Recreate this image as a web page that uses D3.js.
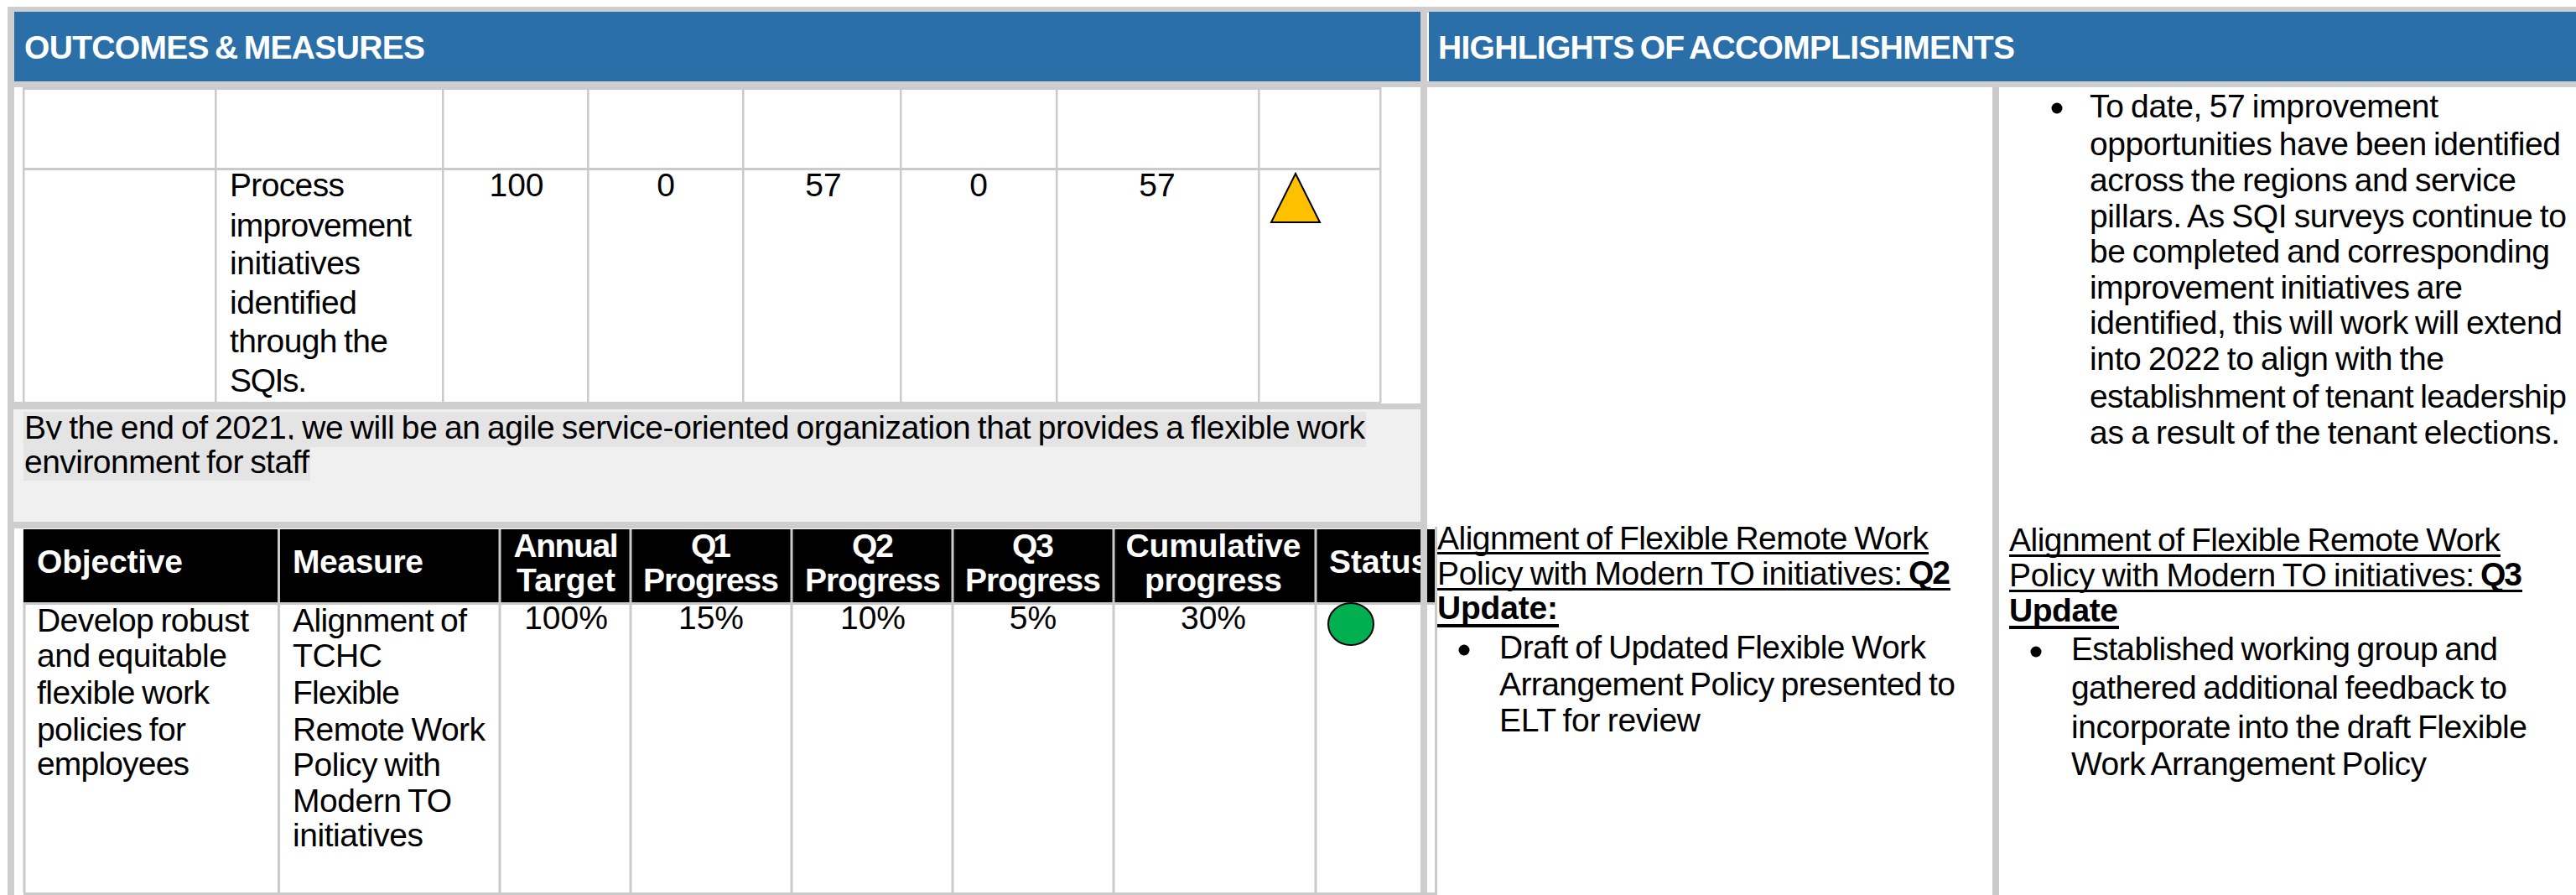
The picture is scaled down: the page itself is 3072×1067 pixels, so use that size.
<!DOCTYPE html>
<html>
<head>
<meta charset="utf-8">
<title>Outcomes and measures</title>
<script src="https://cdn.jsdelivr.net/npm/d3@7"></script>
<style>
  html, body { margin: 0; background: #fff; }
  svg { display: block; font-family: "Liberation Sans", Arial, sans-serif; }
</style>
</head>
<body>
<svg id="canvas" width="3072" height="1067"></svg>
<script>
// values
const sectionTitles = ["OUTCOMES & MEASURES", "HIGHLIGHTS OF ACCOMPLISHMENTS"]

const sqiMeasure = ["Process", "improvement", "initiatives", "identified", "through the", "SQIs."]
const sqiColumns = ["annual", "q1", "q2", "q3", "cumulative"]
const sqiValues = [100, 0, 57, 0, 57]

const outcomeLines = [
  "By the end of 2021, we will be an agile service-oriented organization that provides a flexible work",
  "environment for staff"
]

const flexColumns = ["annual", "q1", "q2", "q3", "cumulative"]
const flexHeaders = [["Annual", "Target"], ["Q1", "Progress"], ["Q2", "Progress"], ["Q3", "Progress"], ["Cumulative", "progress"]]
const flexValues = [100, 15, 10, 5, 30]
const flexObjective = ["Develop robust", "and equitable", "flexible work", "policies for", "employees"]
const flexMeasure = ["Alignment of", "TCHC", "Flexible", "Remote Work", "Policy with", "Modern TO", "initiatives"]

const sqiNote = [
  "To date, 57 improvement", "opportunities have been identified", "across the regions and service",
  "pillars. As SQI surveys continue to", "be completed and corresponding", "improvement initiatives are",
  "identified, this will work will extend", "into 2022 to align with the",
  "establishment of tenant leadership", "as a result of the tenant elections."
]
const updateHeading = ["Alignment of Flexible Remote Work", "Policy with Modern TO initiatives: "]
const q2Update = ["Draft of Updated Flexible Work", "Arrangement Policy presented to", "ELT for review"]
const q3Update = ["Established working group and", "gathered additional feedback to", "incorporate into the draft Flexible", "Work Arrangement Policy"]

// layout
const BLUE = "#2b6fa9", BAND = "#cfcdcd", LINE = "#cacaca", SHADE = "#f0f0f0", HILITE = "#e4e4e4"
const FONT = 39, HEAD = 39

const svg = d3.select("#canvas")

const sqiX = d3.scaleOrdinal().domain(sqiColumns).range([616, 794, 982, 1167, 1380])
const flexX = d3.scaleOrdinal().domain(flexColumns).range([675, 848, 1041, 1232, 1447])

const rect = (x, y, w, h, fill) => svg.append("rect").attr("x", x).attr("y", y).attr("width", w).attr("height", h).attr("fill", fill)

// width is the measured ink width in the reference, so line ends land in the same place
const label = (str, x, y, o = {}) => {
  const t = (o.parent || svg).append("text")
    .attr("x", x).attr("y", o.bold ? y : y + 1)
    .attr("font-size", o.size || FONT)
    .attr("font-weight", o.bold ? "bold" : "normal")
    .attr("fill", o.fill || "#000")
    .attr("text-anchor", o.anchor || "start")
    .style("white-space", "pre")
    .style("word-spacing", o.gap || "-2px")
    .text(str)
  if (o.width) t.attr("textLength", o.width).attr("lengthAdjust", "spacing")
  return t
}

const block = (lines, x, ys, ends) => lines.forEach((d, i) => label(d, x, ys[i], { width: ends ? ends[i] - x : null }))

// section header bands and frame
rect(9, 8, 3063, 99, BAND)
rect(17, 14, 1677, 83, BLUE)
rect(1702, 15, 2, 82, "#fff")
rect(1704, 14, 1368, 83, BLUE)
label(sectionTitles[0], 29, 70, { bold: true, fill: "#fff", size: 39, width: 478, gap: "-3px" })
label(sectionTitles[1], 1715, 70, { bold: true, fill: "#fff", size: 39, width: 688, gap: "-3px" })

rect(9, 107, 8, 960, BAND)
rect(1694, 107, 8, 960, BAND)
rect(17, 104, 1677, 3, "#fff")
rect(1702, 104, 1370, 3, "#fff")
rect(1694, 97, 8, 10, BAND)
rect(9, 97, 8, 10, BAND)

// upper table
const sqiEdges = [28, 257, 528, 701, 886, 1074, 1260, 1501, 1646]
rect(27, 104, 1620, 3, LINE)
rect(27, 200, 1620, 3, LINE)
sqiEdges.forEach(x => rect(x - 1, 104, 2.5, 376, LINE))
block(sqiMeasure, 274, [233, 281, 326, 373, 419, 466], [411, 491, 430, 426, 463, 366])
sqiValues.forEach((d, i) => label(d, sqiX(sqiColumns[i]), 233, { anchor: "middle" }))

const triangle = d3.line()
svg.append("path")
  .attr("d", triangle([[1545, 207], [1574, 265], [1516, 265]]) + "Z")
  .attr("fill", "#ffc000").attr("stroke", "#000").attr("stroke-width", 2)

// shaded outcome statement
rect(9, 479, 1638, 9, BAND)
rect(9, 481, 1693, 7, BAND)
rect(16, 488, 1678, 134, SHADE)
rect(28, 491, 1601, 42, HILITE)
rect(28, 533, 342, 40, HILITE)
label(outcomeLines[0], 29, 522, { width: 1599 })
rect(28, 524, 332, 9, HILITE)
label(outcomeLines[1], 29, 563, { width: 340 })
rect(9, 622, 1693, 8, BAND)

// lower table
rect(17, 630, 1677, 437, "#fff")
rect(1694, 630, 8, 437, BAND)
rect(28, 631, 1666, 87, "#000")
rect(1702, 631, 9, 87, "#000")
rect(28, 718, 1666, 3, LINE)
rect(1702, 718, 9, 3, LINE)
rect(1711, 628, 3, 439, LINE)
rect(28, 1064, 1686, 3, LINE)
const flexEdges = [29, 332.5, 596, 752, 944, 1136, 1328, 1569]
flexEdges.forEach(x => {
  rect(x - 1.5, 718, 3, 346, LINE)
  rect(x - 1.5, 631, 3, 87, LINE)
})
rect(28, 631, 3, 87, "#000")

const headWidths = [[125, 118], [48, 162], [50, 162], [50, 162], [209, 164]]
label("Objective", 44, 683, { bold: true, fill: "#fff", size: HEAD, width: 174 })
label("Measure", 349, 683, { bold: true, fill: "#fff", size: HEAD, width: 156 })
flexHeaders.forEach((d, i) => {
  const cx = flexX(flexColumns[i])
  label(d[0], cx, 664, { bold: true, fill: "#fff", size: HEAD, anchor: "middle", width: headWidths[i][0] })
  label(d[1], cx, 705, { bold: true, fill: "#fff", size: HEAD, anchor: "middle", width: headWidths[i][1] })
})
// the status heading runs into the frame and is cut there
svg.append("clipPath").attr("id", "statusClip").append("rect").attr("x", 1571).attr("y", 631).attr("width", 123).attr("height", 87)
label("Status", 1585, 683, { bold: true, fill: "#fff", size: HEAD, parent: svg.append("g").attr("clip-path", "url(#statusClip)") })

block(flexObjective, 44, [752, 794, 838, 882, 923], [297, 271, 250, 222, 226])
block(flexMeasure, 349, [752, 794, 838, 882, 924, 967, 1008], [557, 456, 477, 579, 526, 539, 505])
flexValues.forEach((d, i) => label(d + "%", flexX(flexColumns[i]), 749, { anchor: "middle" }))

svg.append("ellipse").attr("cx", 1611).attr("cy", 744).attr("rx", 27).attr("ry", 25)
  .attr("fill", "#00b050").attr("stroke", "#000").attr("stroke-width", 2)

// highlights column
rect(2376, 104, 8, 963, LINE)

const bullet = (x, y) => svg.append("circle").attr("cx", x).attr("cy", y).attr("r", 6.5).attr("fill", "#000")

bullet(2453, 129)
block(sqiNote, 2492, [139, 184, 227, 270, 312, 355, 397, 440, 485, 528],
  [2908, 3054, 3001, 3061, 3041, 2937, 3056, 2915, 3061, 3053])

// Q2 update
label(updateHeading[0], 1714, 654, { width: 586 })
rect(1714, 658, 586, 3, "#000")
label(updateHeading[1].trim(), 1714, 696, { width: 555 })
label("Q2", 2276, 696, { bold: true, width: 50 })
rect(1714, 701, 612, 3, "#000")
label("Update:", 1714, 738, { bold: true, width: 144 })
rect(1714, 744, 145, 4, "#000")
bullet(1746, 775)
block(q2Update, 1788, [784, 828, 871], [2297, 2332, 2028])

// Q3 update
label(updateHeading[0], 2396, 656, { width: 586 })
rect(2396, 661, 586, 3, "#000")
label(updateHeading[1].trim(), 2396, 698, { width: 555 })
label("Q3", 2958, 698, { bold: true, width: 50 })
rect(2396, 703, 612, 3, "#000")
label("Update", 2396, 741, { bold: true, width: 130 })
rect(2396, 746, 131, 4, "#000")
bullet(2428, 777)
block(q3Update, 2470, [786, 832, 879, 923], [2979, 2990, 3014, 2894])
</script>
</body>
</html>
